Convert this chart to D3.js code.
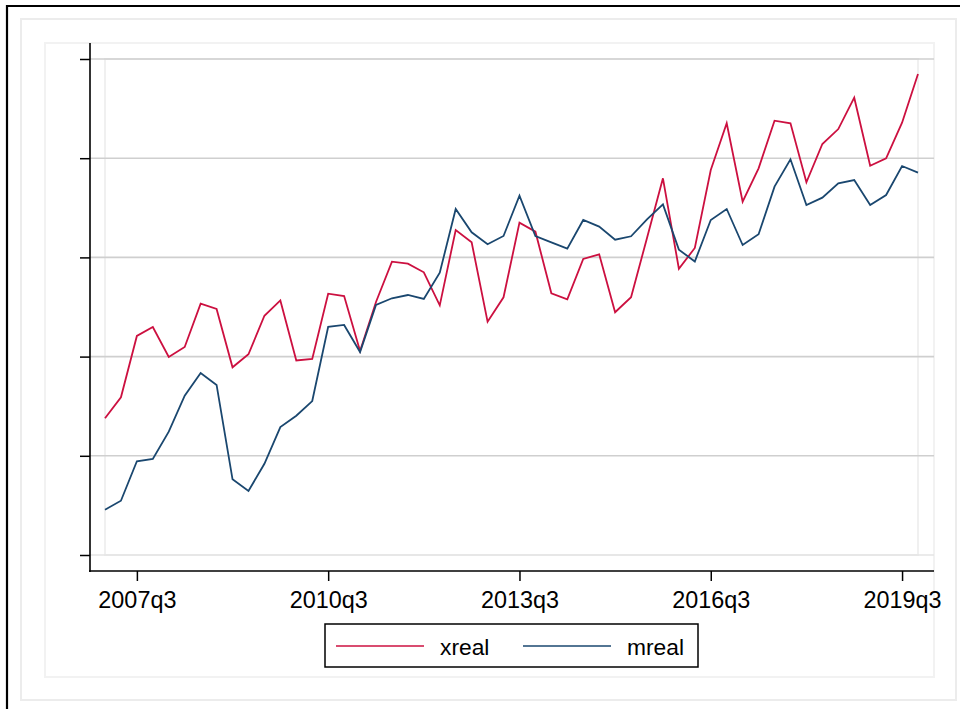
<!DOCTYPE html>
<html>
<head>
<meta charset="utf-8">
<script src="https://cdn.jsdelivr.net/npm/d3@7"></script>
<style>
html,body{margin:0;padding:0;background:#fff;}
svg{display:block;font-family:"Liberation Sans",Arial,Helvetica,sans-serif;}
</style>
</head>
<body>
<svg id="chart" width="960" height="709"></svg>
<script>
// quarters 2007q1 .. 2019q4
const startYear = 2007;
const quarters = d3.range(52).map(i => `${startYear + Math.floor(i / 4)}q${(i % 4) + 1}`);
const xTickLabels = ["2007q3", "2010q3", "2013q3", "2016q3", "2019q3"];
const yTicks = [0, 1, 2, 3, 4, 5];

const xreal = [1.378,1.590,2.208,2.298,1.996,2.097,2.533,2.480,1.892,2.023,2.412,2.566,
  1.961,1.976,2.634,2.611,2.056,2.550,2.957,2.937,2.850,2.517,3.276,3.152,
  2.352,2.598,3.350,3.259,2.638,2.578,2.984,3.031,2.447,2.598,3.196,3.797,
  2.886,3.095,3.881,4.352,3.562,3.898,4.378,4.352,3.757,4.143,4.294,4.610,
  3.924,3.999,4.358,4.849];
const mreal = [0.457,0.547,0.945,0.968,1.243,1.606,1.835,1.714,0.763,0.645,0.920,1.290,
  1.404,1.552,2.301,2.319,2.046,2.520,2.588,2.621,2.581,2.846,3.488,3.253,
  3.133,3.216,3.622,3.216,3.152,3.088,3.377,3.310,3.178,3.213,3.384,3.535,
  3.078,2.959,3.377,3.488,3.125,3.233,3.713,3.989,3.528,3.602,3.747,3.780,
  3.528,3.629,3.921,3.854];
const seriesNames = ["xreal", "mreal"];
const seriesColors = ["#cc1040", "#1a476f"];

const svg = d3.select("#chart");

// outer frames
svg.append("rect").attr("x", 21).attr("y", 19).attr("width", 935).attr("height", 681)
  .attr("fill", "none").attr("stroke", "#ececec").attr("stroke-width", 2);
svg.append("rect").attr("x", 45).attr("y", 43).attr("width", 889).attr("height", 634)
  .attr("fill", "none").attr("stroke", "#f2f2f2").attr("stroke-width", 2);
svg.append("line").attr("x1", 7).attr("x2", 7).attr("y1", 5).attr("y2", 709)
  .attr("stroke", "#000").attr("stroke-width", 2.2);
svg.append("line").attr("x1", 6).attr("x2", 960).attr("y1", 6).attr("y2", 6)
  .attr("stroke", "#000").attr("stroke-width", 2.2);

const x = d3.scaleLinear().domain([0, quarters.length - 1]).range([105, 918]);
const y = d3.scaleLinear().domain([0, 5]).range([555, 59]);

// plot region light box
svg.append("rect").attr("x", x(0)).attr("y", y(5)).attr("width", x(51) - x(0)).attr("height", y(0) - y(5))
  .attr("fill", "none").attr("stroke", "#f0f0f0").attr("stroke-width", 2);

// gridlines
svg.append("g").selectAll("line").data(yTicks).join("line")
  .attr("x1", 90).attr("x2", 934)
  .attr("y1", d => y(d)).attr("y2", d => y(d))
  .attr("stroke", d => d === 0 ? "#e4e4e4" : "#cfcfcf").attr("stroke-width", 1.6);

// y axis
const yAxis = svg.append("g").attr("transform", "translate(90,0)")
  .call(d3.axisLeft(y).tickValues(yTicks).tickSize(10).tickFormat(""));
yAxis.select(".domain").remove();
yAxis.selectAll(".tick line").attr("stroke", "#000").attr("stroke-width", 1.5);
svg.append("line").attr("x1", 90).attr("x2", 90).attr("y1", 43).attr("y2", 572)
  .attr("stroke", "#000").attr("stroke-width", 1.6);

// x axis
const tickIdx = xTickLabels.map(l => quarters.indexOf(l));
const xAxis = svg.append("g").attr("transform", "translate(0,571)")
  .call(d3.axisBottom(x).tickValues(tickIdx).tickSize(10).tickPadding(10)
    .tickFormat(i => quarters[i]));
xAxis.select(".domain").remove();
xAxis.selectAll(".tick line").attr("stroke", "#000").attr("stroke-width", 1.5);
xAxis.selectAll(".tick text").attr("fill", "#000").attr("font-size", 23.4)
  .attr("font-family", "'Liberation Sans',Arial,sans-serif").attr("dy", "0.71em");
svg.append("line").attr("x1", 89).attr("x2", 934).attr("y1", 571).attr("y2", 571)
  .attr("stroke", "#000").attr("stroke-width", 1.6);

// lines
const line = d3.line().x((d, i) => x(i)).y(d => y(d));
[xreal, mreal].forEach((s, k) => {
  svg.append("path").datum(s).attr("d", line)
    .attr("fill", "none").attr("stroke", seriesColors[k]).attr("stroke-width", 1.8)
    .attr("stroke-linejoin", "miter");
});

// legend
const lg = svg.append("g");
lg.append("rect").attr("x", 325).attr("y", 624).attr("width", 373).attr("height", 43)
  .attr("fill", "#fff").attr("stroke", "#000").attr("stroke-width", 1.5);
const legX = [336, 523];
seriesNames.forEach((n, k) => {
  lg.append("line").attr("x1", legX[k]).attr("x2", legX[k] + 88).attr("y1", 646).attr("y2", 646)
    .attr("stroke", seriesColors[k]).attr("stroke-width", 1.7);
  lg.append("text").attr("x", legX[k] + 104).attr("y", 654.5).text(n)
    .attr("font-size", 22.8).attr("fill", "#000");
});
</script>
</body>
</html>
